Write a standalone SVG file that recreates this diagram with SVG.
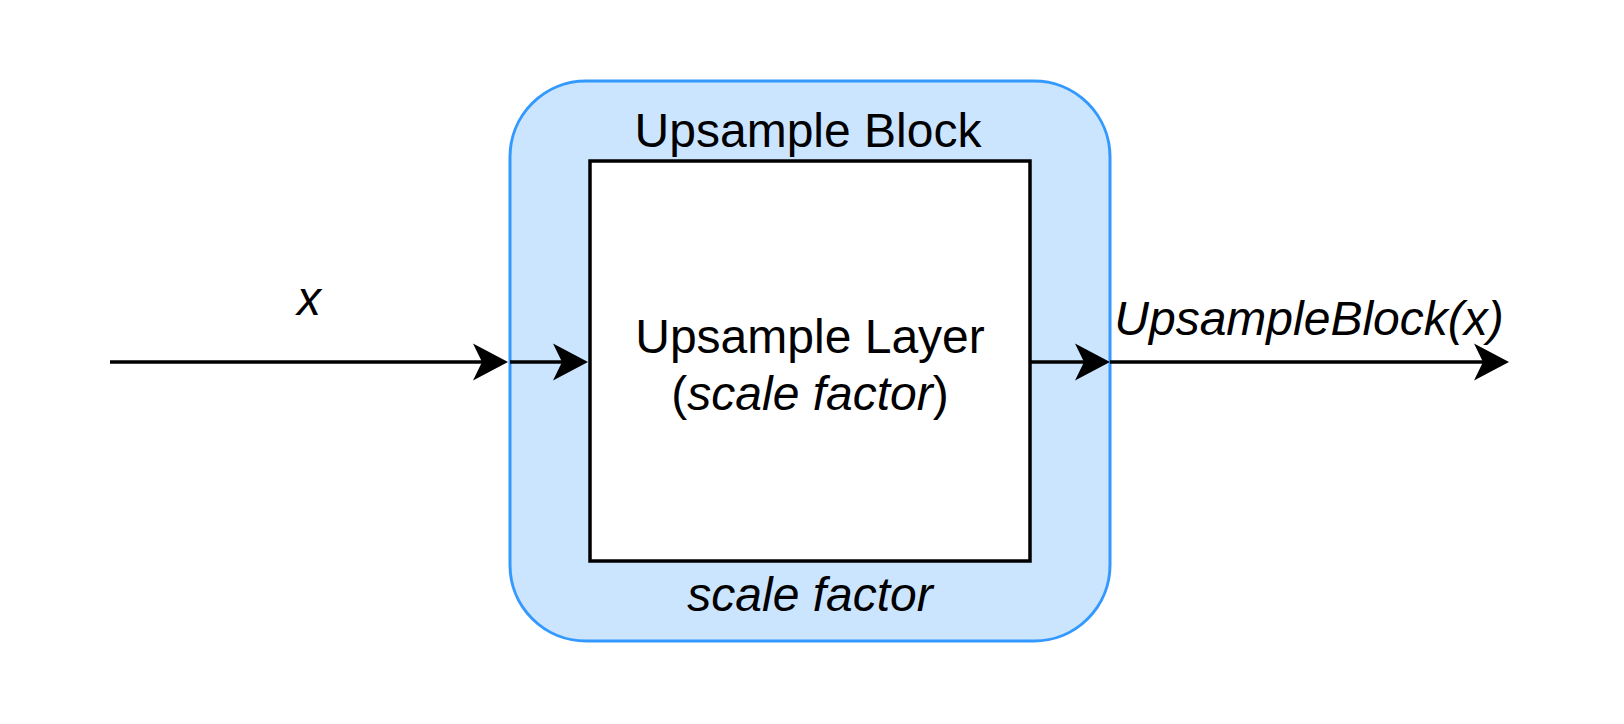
<svg xmlns="http://www.w3.org/2000/svg" width="1624" height="724" viewBox="0 0 1624 724">
  <style>
    text { font-family: "Liberation Sans", Arial, Helvetica, sans-serif; font-size: 48px; fill: #000; }
    .it { font-style: italic; }
    .c { text-anchor: middle; }
    .edge { stroke: #000; stroke-width: 3.5; fill: none; }
    .head { fill: #000; stroke: none; }
  </style>
  <defs>
    <path id="ah" d="M0 0 L-35 -18.5 L-26 0 L-35 18.5 Z"/>
  </defs>
  <rect width="1624" height="724" fill="#fff"/>
  <g id="upsample-block">
    <rect x="510" y="81" width="600" height="560" rx="76" ry="76" fill="#cce5ff" stroke="#3399ff" stroke-width="3"/>
    <text class="c" x="808" y="147">Upsample Block</text>
    <text class="c it" x="810" y="611">scale factor</text>
  </g>
  <g id="upsample-layer">
    <rect x="590" y="161" width="440" height="400" fill="#fff" stroke="#000" stroke-width="3.5"/>
    <text class="c" x="810" y="353">Upsample Layer</text>
    <text class="c" x="810" y="410">(<tspan class="it">scale factor</tspan>)</text>
  </g>
  <g id="label-x">
    <text class="c it" x="309" y="315">x</text>
  </g>
  <g id="label-out">
    <text class="c it" x="1309" y="335">UpsampleBlock(x)</text>
  </g>
  <g id="connectors">
    <line class="edge" x1="110" y1="362" x2="484" y2="362"/>
    <use href="#ah" class="head" transform="translate(508 362)"/>
    <line class="edge" x1="510" y1="362" x2="564" y2="362"/>
    <use href="#ah" class="head" transform="translate(588 362)"/>
    <line class="edge" x1="1030" y1="362" x2="1086" y2="362"/>
    <use href="#ah" class="head" transform="translate(1110 362)"/>
    <line class="edge" x1="1110" y1="362" x2="1486" y2="362"/>
    <use href="#ah" class="head" transform="translate(1509 362)"/>
  </g>
</svg>
